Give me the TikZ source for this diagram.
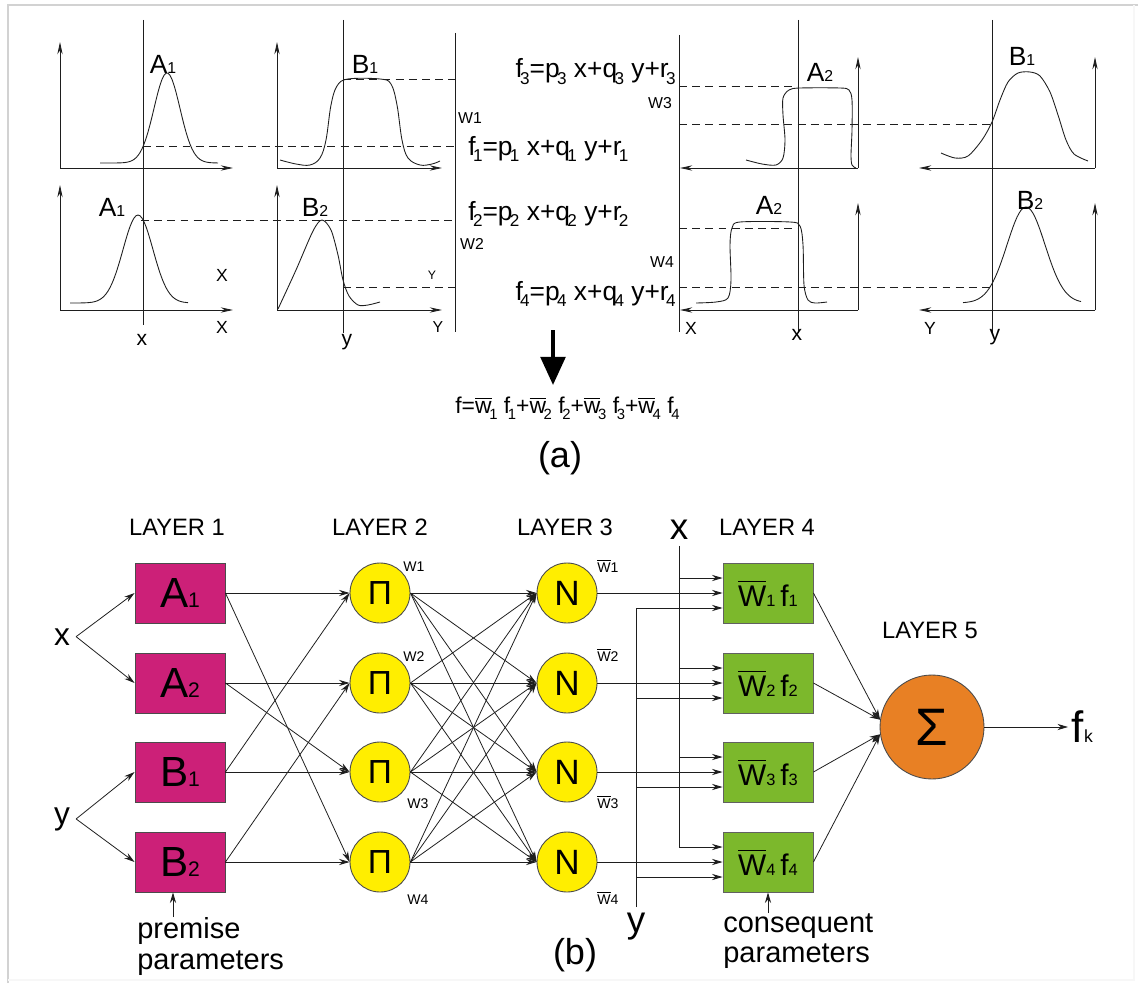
\documentclass[tikz,border=0pt]{standalone}
\usepackage{fontspec}
\setmainfont{Liberation Sans}
\usepackage{amsmath}
\usetikzlibrary{arrows.meta, positioning, calc}
\definecolor{mypink}{RGB}{204,32,120}
\definecolor{myyellow}{RGB}{255,238,0}
\definecolor{mygreen}{RGB}{124,184,44}
\definecolor{myorange}{RGB}{232,128,36}
\definecolor{mydark}{RGB}{30,30,30}
\newcommand{\fs}[1]{\fontsize{#1}{#1}\selectfont}
\newcommand{\dg}[2][0.5]{\scalebox{#1}{#2}}
\newcommand{\lowsub}[1]{\kern-0.1em\raisebox{-0.5ex}{\scalebox{0.65}{#1}}}
\newcommand{\wbar}{\ensuremath{\overline{\text{W}}}}
\newcommand{\wsm}{\ensuremath{\overline{\text{w}}}}
\tikzset{
  premblock/.style={rectangle, draw=mydark!80, fill=mypink,
    minimum width=1.8cm, minimum height=1.2cm, inner sep=0pt,
    font=\fs{24}, line width=0.5pt},
  consblock/.style={rectangle, draw=mydark!70, fill=mygreen,
    minimum width=1.8cm, minimum height=1.2cm, inner sep=0pt,
    font=\fs{17}, line width=0.5pt},
  prodnode/.style={circle, draw=mydark!80, fill=myyellow, minimum size=1.2cm,
    inner sep=0pt, font=\fs{19}, line width=0.5pt},
  normnode/.style={circle, draw=mydark!80, fill=myyellow, minimum size=1.2cm,
    inner sep=0pt, font=\fs{20}, line width=0.5pt},
  sumnode/.style={circle, draw=mydark!80, fill=myorange, minimum size=2.08cm,
    inner sep=0pt, font=\fs{30}, line width=0.5pt},
  layer/.style={font=\fs{13.5}},
  wlabel/.style={font=\fs{8}, inner sep=1pt},
  inlabel/.style={font=\fs{18}},
  note/.style={font=\fontsize{16.5}{17.5}\selectfont, align=left, inner sep=0pt},
  carrow/.style={-{Stealth[length=6pt,width=3.5pt]}, line width=0.45pt, color=mydark},
  line/.style={line width=0.45pt, color=mydark}
}

\begin{document}
\begin{tikzpicture}[x=0.02cm, y=-0.02cm,
  axis/.style={-{Stealth[length=7pt,width=3pt]}, line width=0.5pt, color=mydark},
  guide/.style={line width=0.5pt, color=mydark},
  dashline/.style={dash pattern=on 4.5pt off 3pt, line width=0.5pt, color=mydark},
  curve/.style={line width=0.5pt, color=mydark},
  plotlab/.style={font=\fs{15}},
  axlab/.style={font=\fs{10}},
  formula/.style={font=\fs{15}, inner sep=0pt},
  bigarrow/.style={-{Triangle[length=16pt,width=14pt]}, line width=2.2pt, color=black}]

  \useasboundingbox (0,0) rectangle (1138,983);

  % Frame
  \draw[gray!35, line width=0.6pt] (8,983) -- (8,5) -- (1138,5);
  \draw[gray!6, line width=0.6pt] (1134,5) -- (1134,980) -- (8,980);

  % (a) input plots
  \draw[axis] (60,168) -- (60,42);
  \draw[axis] (60,168) -- (233,168);
  \draw[axis] (277,168) -- (277,42);
  \draw[axis] (277,168) -- (442,168);
  \draw[axis] (60,310) -- (60,185);
  \draw[axis] (60,310) -- (233,310);
  \draw[axis] (277,310) -- (277,185);
  \draw[axis] (277,310) -- (442,310);

  \draw[curve] plot[domain=100:218, samples=60] (\x, {163-90*exp(-(\x-167)*(\x-167)/338)});
  \draw[curve] plot[smooth, tension=0.6] coordinates {(280,160) (296,164) (310,165) (320,158) (326,140) (331,105) (337,86) (348,79) (380,79) (391,84) (397,105) (402,140) (408,158) (420,165) (432,164) (440,161)};
  \draw[curve] plot[domain=70:188, samples=60] (\x, {303-88*exp(-(\x-138)*(\x-138)/450)});
  \draw[curve] plot[smooth, tension=0.5] coordinates {(278,309) (296,270) (313,231) (322,220) (331,230) (338,255) (343,280) (349,296) (358,305) (368,305) (380,302)};

  \node[plotlab] (la1t) at (163,64) {A\dg[0.6]{1}};
  \node[plotlab] (lb1t) at (365,64) {B\dg[0.6]{1}};
  \node[plotlab] (la1b) at (112,207) {A\dg[0.6]{1}};
  \node[plotlab] (lb2b) at (315,207) {B\dg[0.6]{2}};
  \node[axlab] (xa) at (222,275) {X};
  \node[axlab] (xb) at (222,327) {X};
  \node[font=\fs{7}] (ya) at (432,275) {Y};
  \node[font=\fs{9}] (yb) at (438,327) {Y};

  \draw[guide] (143,20) -- (143,325);
  \draw[guide] (343,20) -- (343,333);
  \draw[guide] (455,33) -- (455,332);
  \node[font=\fs{12}] (xv) at (142,340) {x};
  \node[font=\fs{12}] (yv) at (347,342) {y};

  \draw[dashline] (143,146) -- (455,146);
  \draw[dashline] (343,79) -- (455,79);
  \draw[dashline] (141,220) -- (455,220);
  \draw[dashline] (343,287) -- (455,287);

  % (a) rule outputs
  \node[formula, anchor=base east] (f3) at (676,78) {f\lowsub{3}=p\lowsub{3} x+q\lowsub{3} y+r\lowsub{3}};
  \node[formula, anchor=base west] (f1) at (468,155) {f\lowsub{1}=p\lowsub{1} x+q\lowsub{1} y+r\lowsub{1}};
  \node[formula, anchor=base west] (f2) at (468,220) {f\lowsub{2}=p\lowsub{2} x+q\lowsub{2} y+r\lowsub{2}};
  \node[formula, anchor=base east] (f4) at (676,300) {f\lowsub{4}=p\lowsub{4} x+q\lowsub{4} y+r\lowsub{4}};
  \node[font=\fs{9}] (w1t) at (470,118) {W1};
  \node[font=\fs{9}] (w2t) at (472,244) {W2};
  \node[font=\fs{9}] (w3t) at (660,103) {W3};
  \node[font=\fs{9}] (w4t) at (662,262) {W4};

  % (a) right plots
  \draw[axis] (858,168) -- (858,57);
  \draw[axis] (858,168) -- (680,168);
  \draw[axis] (1095,168) -- (1095,57);
  \draw[axis] (1095,168) -- (919,168);
  \draw[axis] (858,310) -- (858,203);
  \draw[axis] (858,310) -- (680,310);
  \draw[axis] (1095,310) -- (1095,203);
  \draw[axis] (1095,310) -- (919,310);

  \draw[curve] plot[smooth, tension=0.5] coordinates {(746,160) (762,164) (776,165) (783,158) (785,140) (783,115) (783,98) (789,90) (800,88) (840,88) (849,90) (852,100) (852,130) (851,155) (852,165) (856,168)};
  \draw[curve] plot[smooth, tension=0.5] coordinates {(941,153) (955,158) (968,156) (982,140) (992,122) (1000,100) (1008,82) (1018,73) (1030,72) (1040,76) (1050,92) (1058,115) (1066,140) (1074,154) (1088,161)};
  \draw[curve] plot[smooth, tension=0.5] coordinates {(696,303) (716,302) (728,298) (731,280) (730,245) (732,228) (740,222) (790,222) (800,226) (803,245) (804,285) (808,300) (815,303) (827,302)};
  \draw[curve] plot[domain=963:1081, samples=60] (\x, {303-96*exp(-(\x-1026)*(\x-1026)/722)});

  \node[plotlab] (la2t) at (820,72) {A\dg[0.6]{2}};
  \node[plotlab] (lb1r) at (1022,56) {B\dg[0.6]{1}};
  \node[plotlab] (la2b) at (769,205) {A\dg[0.6]{2}};
  \node[plotlab] (lb2r) at (1030,200) {B\dg[0.6]{2}};
  \node[axlab] (xc) at (691,328) {X};
  \node[axlab] (yc) at (930,328) {Y};

  \draw[guide] (679,35) -- (679,332);
  \draw[guide] (798,20) -- (798,333);
  \draw[guide] (992,20) -- (992,333);
  \node[font=\fs{12}] (xw) at (797,335) {x};
  \node[font=\fs{12}] (yw) at (995,337) {y};

  \draw[dashline] (679,86) -- (798,86);
  \draw[dashline] (679,124) -- (992,124);
  \draw[dashline] (679,228) -- (798,228);
  \draw[dashline] (679,287) -- (992,287);

  % (a) weighted sum
  \coordinate (dtop) at (553,330);
  \coordinate (dtip) at (553,385);
  \draw[bigarrow] (dtop) -- (dtip);
  \node[font=\fs{13}, anchor=base west, inner sep=0pt] (fsum) at (455,413) {f=\wsm\lowsub{1} f\lowsub{1}+\wsm\lowsub{2} f\lowsub{2}+\wsm\lowsub{3} f\lowsub{3}+\wsm\lowsub{4} f\lowsub{4}};
  \node[font=\fs{20.5}] (capa) at (560,458) {(a)};

  % (b) layer titles
  \node[layer] (t1) at (177,527) {LAYER 1};
  \node[layer] (t2) at (380,527) {LAYER 2};
  \node[layer] (t3) at (565,527) {LAYER 3};
  \node[layer] (t4) at (767,527) {LAYER 4};
  \node[layer] (t5) at (930,630) {LAYER 5};

  % Inputs
  \node[inlabel, anchor=base] (xin) at (62,645) {x};
  \node[inlabel, anchor=base] (yin) at (62,824) {y};

  % Layer 1
  \node[premblock] (a1) at (180,593) {A\dg[0.5]{1}};
  \node[premblock] (a2) at (180,683) {A\dg[0.5]{2}};
  \node[premblock] (b1) at (180,772) {B\dg[0.5]{1}};
  \node[premblock] (b2) at (180,862) {B\dg[0.5]{2}};

  % Layer 2
  \node[prodnode] (p1) at (380,593) {Π};
  \node[prodnode] (p2) at (380,683) {Π};
  \node[prodnode] (p3) at (380,772) {Π};
  \node[prodnode] (p4) at (380,862) {Π};
  \node[wlabel] (pw1) at (414,567) {W1};
  \node[wlabel] (pw2) at (414,657) {W2};
  \node[wlabel] (pw3) at (418,804) {W3};
  \node[wlabel] (pw4) at (418,900) {W4};

  % Layer 3
  \node[normnode] (n1) at (567,593) {N};
  \node[normnode] (n2) at (567,683) {N};
  \node[normnode] (n3) at (567,772) {N};
  \node[normnode] (n4) at (567,862) {N};
  \node[wlabel] (nw1) at (608,566) {\wbar1};
  \node[wlabel] (nw2) at (608,655) {\wbar2};
  \node[wlabel] (nw3) at (608,802) {\wbar3};
  \node[wlabel] (nw4) at (608,898) {\wbar4};

  % Layer 4
  \node[consblock] (c1) at (768,593) {\wbar\dg[0.55]{1}\,f\dg[0.55]{1}};
  \node[consblock] (c2) at (768,683) {\wbar\dg[0.55]{2}\,f\dg[0.55]{2}};
  \node[consblock] (c3) at (768,772) {\wbar\dg[0.55]{3}\,f\dg[0.55]{3}};
  \node[consblock] (c4) at (768,862) {\wbar\dg[0.55]{4}\,f\dg[0.55]{4}};
  \node[font=\fs{21}] (x4) at (679,530) {x};
  \node[font=\fs{21}] (y4) at (636,927) {y};

  % Layer 5
  \node[sumnode] (sum) at (932,727) {Σ};
  \node[font=\fs{25}, anchor=west, inner sep=2pt] (fk) at (1068,727) {f\dg[0.4]{k}};

  % Notes
  \node[note, anchor=north west] (prem) at (137,917) {premise\\parameters};
  \node[note, anchor=north west] (cons) at (723,913) {consequent\\parameters};
  \coordinate (pp) at ([xshift=-0.14cm]b2.south);

  % Connections
  \draw[carrow] (xin.east) -- (a1.west);
  \draw[carrow] (xin.east) -- (a2.west);
  \draw[carrow] (yin.east) -- (b1.west);
  \draw[carrow] (yin.east) -- (b2.west);

  \draw[carrow] (a1.east) -- (p1.west);
  \draw[carrow] (a1.east) -- (p4.west);
  \draw[carrow] (a2.east) -- (p2.west);
  \draw[carrow] (a2.east) -- (p3.west);
  \draw[carrow] (b1.east) -- (p3.west);
  \draw[carrow] (b1.east) -- (p1.west);
  \draw[carrow] (b2.east) -- (p4.west);
  \draw[carrow] (b2.east) -- (p2.west);

  \draw[carrow] (p1.east) -- (n1.west);
  \draw[carrow] (p1.east) -- (n2.west);
  \draw[carrow] (p1.east) -- (n3.west);
  \draw[carrow] (p1.east) -- (n4.west);
  \draw[carrow] (p2.east) -- (n1.west);
  \draw[carrow] (p2.east) -- (n2.west);
  \draw[carrow] (p2.east) -- (n3.west);
  \draw[carrow] (p2.east) -- (n4.west);
  \draw[carrow] (p3.east) -- (n1.west);
  \draw[carrow] (p3.east) -- (n2.west);
  \draw[carrow] (p3.east) -- (n3.west);
  \draw[carrow] (p3.east) -- (n4.west);
  \draw[carrow] (p4.east) -- (n1.west);
  \draw[carrow] (p4.east) -- (n2.west);
  \draw[carrow] (p4.east) -- (n3.west);
  \draw[carrow] (p4.east) -- (n4.west);

  \draw[carrow] (n1.east) -- (c1.west);
  \draw[carrow] (n2.east) -- (c2.west);
  \draw[carrow] (n3.east) -- (c3.west);
  \draw[carrow] (n4.east) -- (c4.west);

  \coordinate (c1x) at ([yshift=0.3cm]c1.west);
  \coordinate (c2x) at ([yshift=0.3cm]c2.west);
  \coordinate (c3x) at ([yshift=0.3cm]c3.west);
  \coordinate (c4x) at ([yshift=0.3cm]c4.west);
  \coordinate (c1y) at ([yshift=-0.3cm]c1.west);
  \coordinate (c2y) at ([yshift=-0.3cm]c2.west);
  \coordinate (c3y) at ([yshift=-0.3cm]c3.west);
  \coordinate (c4y) at ([yshift=-0.3cm]c4.west);
  \draw[carrow] (x4.south) |- (c4x);
  \draw[carrow] (c1x -| x4.south) -- (c1x);
  \draw[carrow] (c2x -| x4.south) -- (c2x);
  \draw[carrow] (c3x -| x4.south) -- (c3x);
  \draw[carrow] (y4.north) |- (c1y);
  \draw[carrow] (c2y -| y4.north) -- (c2y);
  \draw[carrow] (c3y -| y4.north) -- (c3y);
  \draw[carrow] (c4y -| y4.north) -- (c4y);

  \draw[carrow] (c1.east) -- (sum.172);
  \draw[carrow] (c2.east) -- (sum.172);
  \draw[carrow] (c3.east) -- (sum.188);
  \draw[carrow] (c4.east) -- (sum.188);
  \draw[carrow] (sum) -- (fk.west);

  \draw[carrow] (pp |- prem.north) -- (pp);
  \draw[carrow] (cons.north -| c4.south) -- (c4.south);

  \node[font=\fs{20.5}] (capb) at (575,955) {(b)};

\end{tikzpicture}
\end{document}
